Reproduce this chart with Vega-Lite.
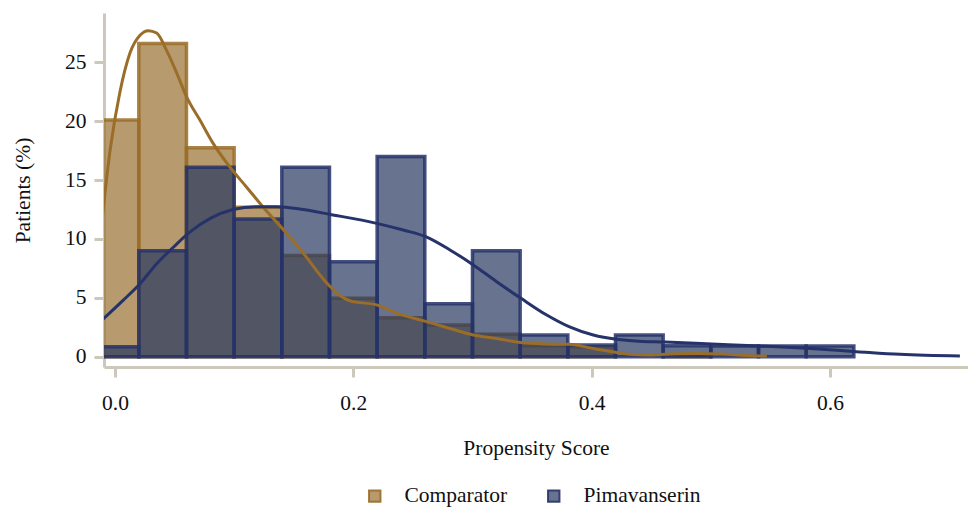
{
  "$schema": "https://vega.github.io/schema/vega-lite/v6.json",
  "autosize": {"type": "none"},
  "padding": {"left": 104, "top": 13, "right": 0, "bottom": 145},
  "width": 864,
  "height": 354,
  "background": "white",
  "config": {
    "view": {"stroke": null},
    "font": "Liberation Serif",
    "axis": {
      "domainColor": "#cdc8bc",
      "domainWidth": 3,
      "tickColor": "#cdc8bc",
      "tickWidth": 3,
      "tickSize": 10,
      "grid": false,
      "labelFont": "Liberation Serif",
      "labelFontSize": 21.5,
      "labelColor": "#111111",
      "titleFont": "Liberation Serif",
      "titleFontSize": 21.5,
      "titleFontWeight": "normal",
      "titleColor": "#111111"
    },
    "legend": {
      "labelFont": "Liberation Serif",
      "labelFontSize": 21.5,
      "labelColor": "#111111"
    }
  },
  "datasets": {
    "hist": [
      {"group": "Comparator", "bin_start": -0.02, "bin_end": 0.02, "pct": 20.1},
      {"group": "Comparator", "bin_start": 0.02, "bin_end": 0.06, "pct": 26.6},
      {"group": "Comparator", "bin_start": 0.06, "bin_end": 0.10, "pct": 17.75},
      {"group": "Comparator", "bin_start": 0.10, "bin_end": 0.14, "pct": 12.7},
      {"group": "Comparator", "bin_start": 0.14, "bin_end": 0.18, "pct": 8.6},
      {"group": "Comparator", "bin_start": 0.18, "bin_end": 0.22, "pct": 4.96},
      {"group": "Comparator", "bin_start": 0.22, "bin_end": 0.26, "pct": 3.3},
      {"group": "Comparator", "bin_start": 0.26, "bin_end": 0.30, "pct": 2.7},
      {"group": "Comparator", "bin_start": 0.30, "bin_end": 0.34, "pct": 1.9},
      {"group": "Comparator", "bin_start": 0.34, "bin_end": 0.38, "pct": 0.93},
      {"group": "Comparator", "bin_start": 0.38, "bin_end": 0.42, "pct": 0.85},
      {"group": "Comparator", "bin_start": 0.46, "bin_end": 0.50, "pct": 0.15},
      {"group": "Pimavanserin", "bin_start": -0.02, "bin_end": 0.02, "pct": 0.85},
      {"group": "Pimavanserin", "bin_start": 0.02, "bin_end": 0.06, "pct": 9.0},
      {"group": "Pimavanserin", "bin_start": 0.06, "bin_end": 0.10, "pct": 16.1},
      {"group": "Pimavanserin", "bin_start": 0.10, "bin_end": 0.14, "pct": 11.7},
      {"group": "Pimavanserin", "bin_start": 0.14, "bin_end": 0.18, "pct": 16.1},
      {"group": "Pimavanserin", "bin_start": 0.18, "bin_end": 0.22, "pct": 8.07},
      {"group": "Pimavanserin", "bin_start": 0.22, "bin_end": 0.26, "pct": 17.0},
      {"group": "Pimavanserin", "bin_start": 0.26, "bin_end": 0.30, "pct": 4.5},
      {"group": "Pimavanserin", "bin_start": 0.30, "bin_end": 0.34, "pct": 9.0},
      {"group": "Pimavanserin", "bin_start": 0.34, "bin_end": 0.38, "pct": 1.84},
      {"group": "Pimavanserin", "bin_start": 0.38, "bin_end": 0.42, "pct": 1.0},
      {"group": "Pimavanserin", "bin_start": 0.42, "bin_end": 0.46, "pct": 1.84},
      {"group": "Pimavanserin", "bin_start": 0.46, "bin_end": 0.50, "pct": 0.93},
      {"group": "Pimavanserin", "bin_start": 0.50, "bin_end": 0.54, "pct": 0.9},
      {"group": "Pimavanserin", "bin_start": 0.54, "bin_end": 0.58, "pct": 0.9},
      {"group": "Pimavanserin", "bin_start": 0.58, "bin_end": 0.62, "pct": 0.9}
    ],
    "density": [
      {"group": "Comparator", "x": -0.012, "y": 10.5},
      {"group": "Comparator", "x": -0.004, "y": 17.6},
      {"group": "Comparator", "x": 0.004, "y": 22.4},
      {"group": "Comparator", "x": 0.0126, "y": 25.8},
      {"group": "Comparator", "x": 0.021, "y": 27.3},
      {"group": "Comparator", "x": 0.028, "y": 27.7},
      {"group": "Comparator", "x": 0.035, "y": 27.5},
      {"group": "Comparator", "x": 0.0434, "y": 26.0},
      {"group": "Comparator", "x": 0.0518, "y": 24.1},
      {"group": "Comparator", "x": 0.060, "y": 22.1},
      {"group": "Comparator", "x": 0.0713, "y": 20.1},
      {"group": "Comparator", "x": 0.0825, "y": 18.1},
      {"group": "Comparator", "x": 0.0965, "y": 16.1},
      {"group": "Comparator", "x": 0.1105, "y": 14.4},
      {"group": "Comparator", "x": 0.1244, "y": 12.7},
      {"group": "Comparator", "x": 0.1412, "y": 10.8},
      {"group": "Comparator", "x": 0.158, "y": 8.8},
      {"group": "Comparator", "x": 0.1748, "y": 6.6},
      {"group": "Comparator", "x": 0.1888, "y": 5.2},
      {"group": "Comparator", "x": 0.197, "y": 4.75},
      {"group": "Comparator", "x": 0.2196, "y": 4.4},
      {"group": "Comparator", "x": 0.2364, "y": 3.7},
      {"group": "Comparator", "x": 0.2607, "y": 3.0},
      {"group": "Comparator", "x": 0.2811, "y": 2.4},
      {"group": "Comparator", "x": 0.3007, "y": 1.85},
      {"group": "Comparator", "x": 0.3203, "y": 1.55},
      {"group": "Comparator", "x": 0.3407, "y": 1.2},
      {"group": "Comparator", "x": 0.3623, "y": 1.08},
      {"group": "Comparator", "x": 0.381, "y": 1.05},
      {"group": "Comparator", "x": 0.4014, "y": 0.7},
      {"group": "Comparator", "x": 0.421, "y": 0.35},
      {"group": "Comparator", "x": 0.432, "y": 0.2},
      {"group": "Comparator", "x": 0.45, "y": 0.15},
      {"group": "Comparator", "x": 0.47, "y": 0.25},
      {"group": "Comparator", "x": 0.49, "y": 0.28},
      {"group": "Comparator", "x": 0.51, "y": 0.22},
      {"group": "Comparator", "x": 0.53, "y": 0.1},
      {"group": "Comparator", "x": 0.547, "y": 0.05},
      {"group": "Pimavanserin", "x": -0.012, "y": 3.0},
      {"group": "Pimavanserin", "x": 0.007, "y": 4.8},
      {"group": "Pimavanserin", "x": 0.021, "y": 6.2},
      {"group": "Pimavanserin", "x": 0.035, "y": 7.9},
      {"group": "Pimavanserin", "x": 0.049, "y": 9.3},
      {"group": "Pimavanserin", "x": 0.063, "y": 10.6},
      {"group": "Pimavanserin", "x": 0.080, "y": 11.75},
      {"group": "Pimavanserin", "x": 0.099, "y": 12.5},
      {"group": "Pimavanserin", "x": 0.119, "y": 12.75},
      {"group": "Pimavanserin", "x": 0.136, "y": 12.75},
      {"group": "Pimavanserin", "x": 0.158, "y": 12.5},
      {"group": "Pimavanserin", "x": 0.18, "y": 12.1},
      {"group": "Pimavanserin", "x": 0.2196, "y": 11.33},
      {"group": "Pimavanserin", "x": 0.2419, "y": 10.76},
      {"group": "Pimavanserin", "x": 0.2607, "y": 10.2},
      {"group": "Pimavanserin", "x": 0.2811, "y": 9.07},
      {"group": "Pimavanserin", "x": 0.3007, "y": 7.8},
      {"group": "Pimavanserin", "x": 0.3203, "y": 6.37},
      {"group": "Pimavanserin", "x": 0.3407, "y": 4.96},
      {"group": "Pimavanserin", "x": 0.3623, "y": 3.54},
      {"group": "Pimavanserin", "x": 0.381, "y": 2.55},
      {"group": "Pimavanserin", "x": 0.4014, "y": 1.84},
      {"group": "Pimavanserin", "x": 0.421, "y": 1.48},
      {"group": "Pimavanserin", "x": 0.44, "y": 1.32},
      {"group": "Pimavanserin", "x": 0.4615, "y": 1.25},
      {"group": "Pimavanserin", "x": 0.5007, "y": 1.08},
      {"group": "Pimavanserin", "x": 0.5412, "y": 0.91},
      {"group": "Pimavanserin", "x": 0.5804, "y": 0.71},
      {"group": "Pimavanserin", "x": 0.6224, "y": 0.43},
      {"group": "Pimavanserin", "x": 0.6587, "y": 0.2},
      {"group": "Pimavanserin", "x": 0.709, "y": 0.05}
    ]
  },
  "layer": [
    {
      "data": {"name": "hist"},
      "mark": {"type": "bar", "clip": true, "fillOpacity": 0.7, "strokeOpacity": 0.85, "strokeWidth": 3.5},
      "encoding": {
        "x": {
          "field": "bin_start", "type": "quantitative",
          "scale": {"domain": [-0.0092, 0.7158], "nice": false, "zero": false},
          "axis": {"values": [0, 0.2, 0.4, 0.6], "format": ".1f", "title": "Propensity Score", "labelPadding": 15, "titlePadding": 24}
        },
        "x2": {"field": "bin_end"},
        "y": {
          "field": "pct", "type": "quantitative",
          "scale": {"domain": [-0.875, 29.2], "nice": false, "zero": false},
          "axis": {"values": [0, 5, 10, 15, 20, 25], "title": "Patients (%)", "labelPadding": 8, "titlePadding": 30}
        },
        "y2": {"datum": 0},
        "color": {
          "field": "group", "type": "nominal",
          "scale": {"domain": ["Comparator", "Pimavanserin"], "range": ["#997030", "#26385f"]},
          "legend": {
            "title": null, "orient": "none", "direction": "horizontal",
            "legendX": 260, "legendY": 472,
            "symbolType": "square", "symbolSize": 130, "symbolStrokeWidth": 2,
            "labelOffset": 19, "columnPadding": 35,
            "encode": {"symbols": {"update": {"opacity": {"value": 1}, "fillOpacity": {"value": 0.7}, "strokeOpacity": {"value": 0.9}, "stroke": {"scale": "stroke", "field": "value"}, "strokeWidth": {"value": 2}}}}
          }
        },
        "stroke": {
          "field": "group", "type": "nominal",
          "scale": {"domain": ["Comparator", "Pimavanserin"], "range": ["#9a6d28", "#26336a"]}
        },
        "order": {"field": "group"}
      }
    },
    {
      "data": {"name": "density"},
      "mark": {"type": "line", "clip": true, "strokeWidth": 3, "interpolate": "monotone"},
      "encoding": {
        "x": {"field": "x", "type": "quantitative"},
        "y": {"field": "y", "type": "quantitative"},
        "stroke": {"field": "group", "type": "nominal"},
        "order": {"field": "x"}
      }
    }
  ]
}
